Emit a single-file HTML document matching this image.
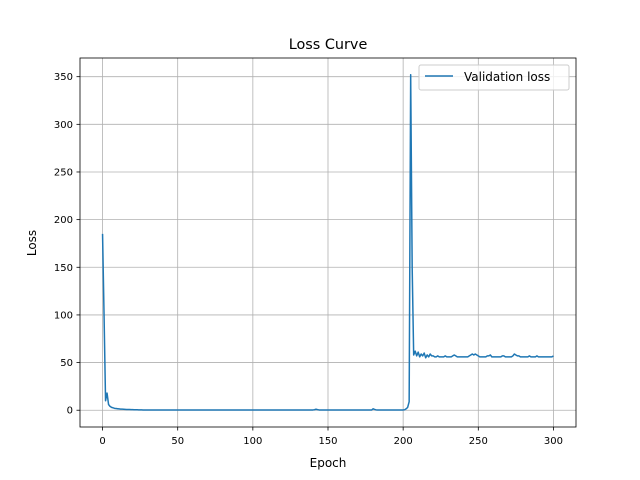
<!DOCTYPE html>
<html><head><meta charset="utf-8"><style>
body{margin:0;background:#fff}
svg{display:block;font-family:"DejaVu Sans","Liberation Sans",sans-serif}
</style></head><body>
<svg id="chart" width="640" height="480" viewBox="0 0 640 480">
<rect width="640" height="480" fill="#fff"/>
<g id="grid"></g>
<g id="ticks"></g>
<path id="line" fill="none" stroke="#1f77b4" stroke-width="1.5" stroke-linejoin="round"/>
<rect x="80" y="58" width="496" height="369" fill="none" stroke="#000" stroke-width="0.8"/>
<text x="328" y="49" text-anchor="middle" font-size="14.4">Loss Curve</text>
<text x="328" y="467" text-anchor="middle" font-size="12">Epoch</text>
<text transform="translate(36,243) rotate(-90)" text-anchor="middle" font-size="12">Loss</text>
<g>
<rect x="419" y="65" width="150" height="25" rx="2" fill="#fff" fill-opacity="0.8" stroke="#ccc" stroke-width="1"/>
<line x1="425" y1="76" x2="453" y2="76" stroke="#1f77b4" stroke-width="1.5"/>
<text x="464" y="81" font-size="12">Validation loss</text>
</g>
</svg>
<script>
const xTicks=[0,50,100,150,200,250,300];
const yTicks=[0,50,100,150,200,250,300,350];
const losses=[
185,100,10,18,6,4,3,2.5,2,1.8,
1.6,1.4,1.2,1.1,1,0.9,0.8,0.7,0.7,0.6,
0.6,0.5,0.5,0.5,0.4,0.4,0.4,0.3,0.3,0.3,
0.2,0.2,0.2,0.2,0.2,0.2,0.2,0.2,0.2,0.2,
0.2,0.2,0.2,0.2,0.2,0.2,0.2,0.2,0.2,0.2,
0.2,0.2,0.2,0.2,0.2,0.2,0.2,0.2,0.2,0.2,
0.2,0.2,0.2,0.2,0.2,0.2,0.2,0.2,0.2,0.2,
0.2,0.2,0.2,0.2,0.2,0.2,0.2,0.2,0.2,0.2,
0.2,0.2,0.2,0.2,0.2,0.2,0.2,0.2,0.2,0.2,
0.2,0.2,0.2,0.2,0.2,0.2,0.2,0.2,0.2,0.2,
0.2,0.2,0.3,0.2,0.2,0.2,0.2,0.2,0.2,0.2,
0.2,0.2,0.2,0.2,0.2,0.2,0.2,0.2,0.2,0.2,
0.2,0.2,0.2,0.2,0.2,0.2,0.2,0.2,0.2,0.2,
0.2,0.2,0.2,0.2,0.2,0.2,0.2,0.2,0.2,0.2,
0.3,0.5,1,0.6,0.3,0.2,0.2,0.2,0.2,0.2,
0.2,0.2,0.2,0.2,0.2,0.2,0.2,0.2,0.2,0.2,
0.2,0.2,0.2,0.2,0.2,0.2,0.2,0.2,0.2,0.2,
0.2,0.2,0.2,0.2,0.2,0.2,0.2,0.2,0.2,0.2,
1.5,0.8,0.4,0.3,0.2,0.2,0.2,0.2,0.2,0.2,
0.2,0.2,0.2,0.2,0.2,0.2,0.2,0.2,0.2,0.2,
0.3,0.5,1.5,3,9,352,150,58,62,57,
61,56,59,57,60,55,58,56,59,57,
57,56,56,57,56,56,56,56,57,56,
56,56,56,57,58,57,56,56,56,56,
56,56,56,56,57,58,59,58,59,58,
57,56,56,56,56,56,57,57,58,56,
56,56,56,56,56,56,57,57,56,56,
56,56,56,57,59,58,57,57,56,56,
56,56,56,56,57,56,56,56,56,57,
56,56,56,56,56,56,56,56,56,56,
57];
const L=80,R=576,T=58,B=427;
const xMin=-15,xMax=315,yMin=-17.6,yMax=369.6;
const sx=v=>L+(v-xMin)/(xMax-xMin)*(R-L);
const sy=v=>B-(v-yMin)/(yMax-yMin)*(B-T);
const NS="http://www.w3.org/2000/svg";
const grid=document.getElementById('grid'),ticks=document.getElementById('ticks');
function mk(tag,attrs,parent){const e=document.createElementNS(NS,tag);for(const k in attrs)e.setAttribute(k,attrs[k]);parent.appendChild(e);return e;}
xTicks.forEach(t=>{const x=sx(t);
 const g=mk('line',{x1:x,x2:x,y1:T,y2:B,stroke:'#b0b0b0','stroke-width':0.8},grid);
 
 
 const k=mk('line',{x1:x,x2:x,y1:B,y2:B+3.5,stroke:'#000','stroke-width':0.8},ticks);
 
 
 const tx=mk('text',{x:x,y:B+17,'text-anchor':'middle','font-size':10},ticks);tx.textContent=t;
 
 
});
yTicks.forEach(t=>{const y=sy(t);
 const g=mk('line',{x1:L,x2:R,y1:y,y2:y,stroke:'#b0b0b0','stroke-width':0.8},grid);
 
 
 const k=mk('line',{x1:L-3.5,x2:L,y1:y,y2:y,stroke:'#000','stroke-width':0.8},ticks);
 
 
 const tx=mk('text',{x:L-7,y:y+3.5,'text-anchor':'end','font-size':10},ticks);tx.textContent=t;
 
 
});
document.getElementById('line').setAttribute('d',losses.map((v,i)=>(i?'L':'M')+sx(i).toFixed(2)+','+sy(v).toFixed(2)).join(''));
</script>
</body></html>
